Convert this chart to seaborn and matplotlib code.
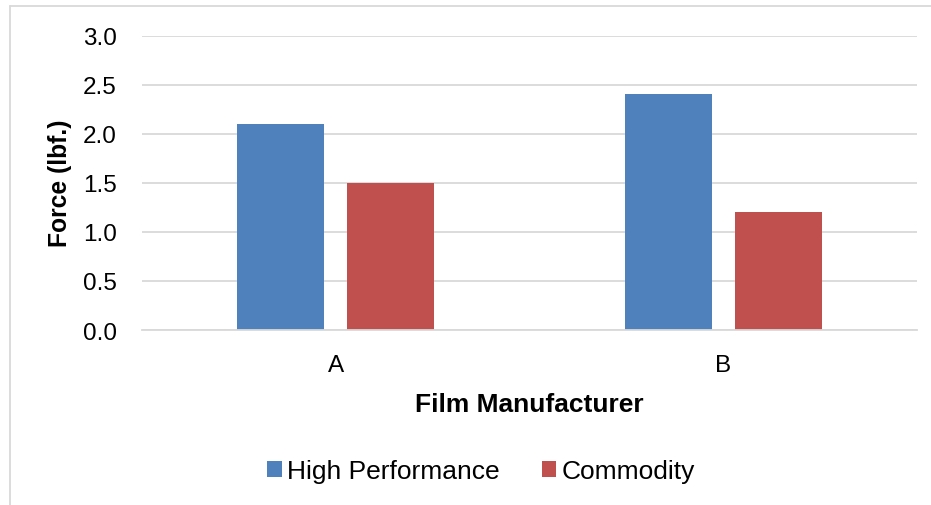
import matplotlib
matplotlib.use("Agg")
import matplotlib.pyplot as plt
from matplotlib.lines import Line2D
import seaborn as sns
import pandas as pd

manufacturers = ["A", "B"]
series = ["High Performance", "Commodity"]
high_performance = [2.1, 2.4]
commodity = [1.5, 1.2]
y_ticks = [0.0, 0.5, 1.0, 1.5, 2.0, 2.5, 3.0]

colors = ["#4F81BD", "#C0504D"]
grid_color = "#D9D9D9"

df = pd.DataFrame({
    "Film Manufacturer": manufacturers * 2,
    "Series": [series[0]] * 2 + [series[1]] * 2,
    "Force": high_performance + commodity,
})

sns.set_theme(style="white")
plt.rcParams["font.family"] = ["Liberation Sans", "DejaVu Sans"]
plt.rcParams["text.color"] = "black"
plt.rcParams["axes.labelcolor"] = "black"

W, H = 931, 506
fig = plt.figure(figsize=(W / 100, H / 100), dpi=100)
ax = fig.add_axes([142 / W, 1 - 331 / H, (917 - 142) / W, (331 - 36.5) / H])

sns.barplot(data=df, x="Film Manufacturer", y="Force", hue="Series",
            hue_order=series, palette=colors, width=0.568, gap=0.21,
            saturation=1, ax=ax, legend=True, errorbar=None,
            edgecolor="none", linewidth=0)

ax.set_ylim(0, 3.0)
ax.set_xlim(-0.5, 1.5)
ax.set_yticks(y_ticks)
ax.set_yticklabels([f"{v:.1f}" for v in y_ticks])
ax.yaxis.grid(True, color=grid_color, linewidth=1.3)
ax.set_axisbelow(True)
for s in ["top", "right", "left"]:
    ax.spines[s].set_visible(False)
ax.spines["bottom"].set_color(grid_color)
ax.spines["bottom"].set_linewidth(1.3)
ax.tick_params(axis="both", length=0, labelsize=17.5, colors="black")
ax.tick_params(axis="y", pad=18)
ax.tick_params(axis="x", pad=17)

ax.set_xlabel("Film Manufacturer", fontsize=19, fontweight="bold", labelpad=12,
              color="black")
ax.set_ylabel("Force (lbf.)", fontsize=17.7, fontweight="bold", labelpad=8,
              color="black")

handles, labels = ax.get_legend_handles_labels()
ax.get_legend().remove()
leg = fig.legend(handles, labels, loc="center", bbox_to_anchor=(481 / W, 1 - 472 / H),
                 ncol=2, frameon=False, fontsize=19, handlelength=0.55,
                 handleheight=0.55, handletextpad=0.2, columnspacing=1.6)
for t in leg.get_texts():
    t.set_color("black")

# chart-area border
fig.add_artist(Line2D([9.5 / W, 9.5 / W], [0, 1 - 7 / H], transform=fig.transFigure,
                      color=grid_color, linewidth=1.3))
fig.add_artist(Line2D([9.5 / W, 1], [1 - 7 / H, 1 - 7 / H], transform=fig.transFigure,
                      color=grid_color, linewidth=1.3))

fig.savefig("out.png", dpi=100, facecolor="white")
